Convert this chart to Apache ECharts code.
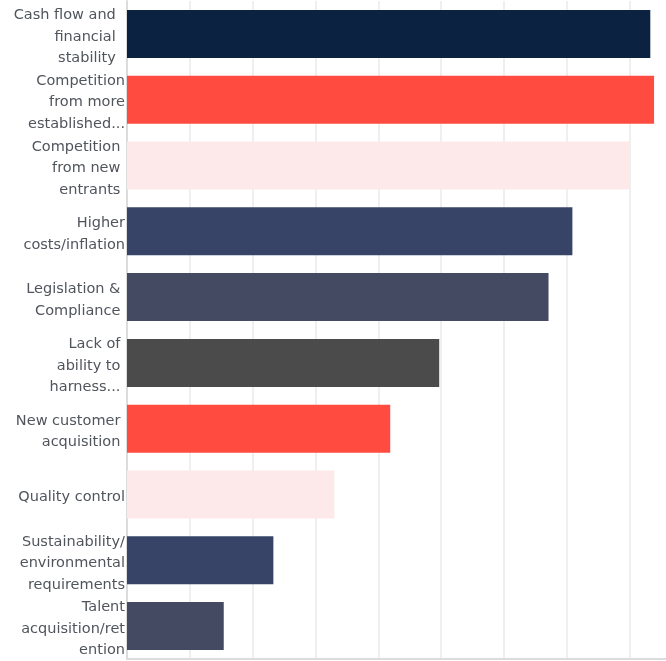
<!DOCTYPE html>
<html lang="en">
<head>
    <meta charset="UTF-8">
    <title>Challenges</title>
    <style>
        *{
            margin: 0;
            padding: 0;
        }
        html, body{
            height: 100%;
            width: 100%;
            background: #fff;
        }
        #chart{
            width: 666px;
            height: 661px;
        }
    </style>
</head>
<body>
<div id="chart"></div>
<script src="https://cdn.jsdelivr.net/npm/echarts@6/dist/echarts.min.js"></script>
<script>
    var categories = [
        'Cash flow and  \nfinancial  \nstability  ',
        'Competition\nfrom more\nestablished...',
        'Competition \nfrom new \nentrants ',
        'Higher\ncosts/inflation',
        'Legislation & \nCompliance ',
        'Lack of \nability to \nharness... ',
        'New customer \nacquisition ',
        'Quality control',
        'Sustainability/\nenvironmental\nrequirements',
        'Talent\nacquisition/ret\nention'
    ];
    var values = [83.3, 83.9, 80.0, 70.9, 67.1, 49.7, 41.9, 33.0, 23.3, 15.4];
    var barColors = ['#0b2341', '#ff4b40', '#fde9e9', '#374468', '#454a63',
        '#4b4b4b', '#ff4b40', '#fde9e9', '#374468', '#454a63'];

    var chart = echarts.init(document.getElementById('chart'));
    var data = [];
    for (var i = 0; i < values.length; i++) {
        data.push({
            value: values[i],
            itemStyle: {color: barColors[i]}
        });
    }
    var option = {
        animation: false,
        grid: [{
            left: 127,
            right: 0,
            top: 1,
            bottom: 2,
            outerBoundsMode: 'none'
        }, {
            // labels sit a few px lower than the bar centres
            left: 127,
            right: 0,
            top: 4,
            bottom: -1,
            outerBoundsMode: 'none'
        }],
        xAxis: [{
            type: 'value',
            min: 0,
            max: 85.8,
            interval: 10,
            axisLabel: {show: false},
            axisTick: {show: false},
            axisLine: {show: true, lineStyle: {color: '#dcdcdc', width: 2}},
            splitLine: {showMaxLine: false, lineStyle: {color: '#efefef', width: 2}}
        }, {
            type: 'value',
            gridIndex: 1,
            show: false
        }],
        yAxis: [{
            type: 'category',
            inverse: true,
            data: categories,
            axisTick: {show: false},
            axisLabel: {show: false},
            axisLine: {show: true, lineStyle: {color: '#dcdcdc', width: 2}}
        }, {
            type: 'category',
            gridIndex: 1,
            inverse: true,
            data: categories,
            axisTick: {show: false},
            axisLine: {show: false},
            splitLine: {show: false},
            axisLabel: {
                interval: 0,
                showMinLabel: true,
                showMaxLabel: true,
                hideOverlap: false,
                margin: 2,
                color: '#50555c',
                fontFamily: 'DejaVu Sans',
                fontSize: 14.5,
                lineHeight: 21.5,
                align: 'right'
            }
        }],
        series: [{
            type: 'bar',
            barWidth: 48,
            data: data
        }]
    };
    chart.setOption(option);
</script>
</body>
</html>
